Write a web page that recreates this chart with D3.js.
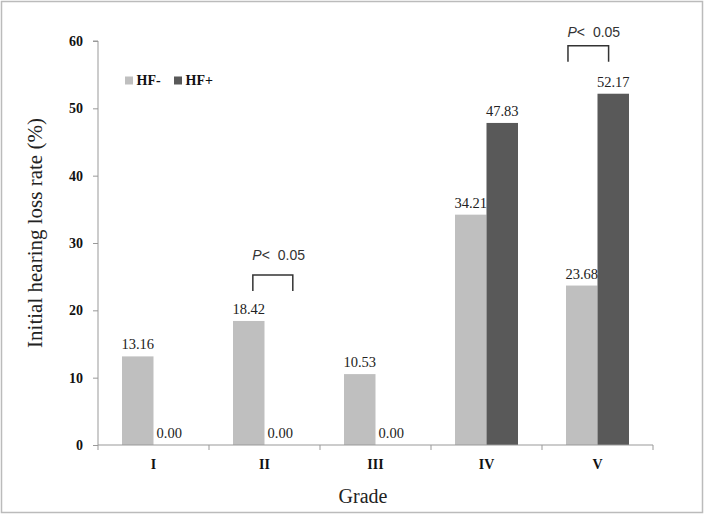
<!DOCTYPE html>
<html><head><meta charset="utf-8">
<script src="https://cdn.jsdelivr.net/npm/d3@7"></script>
<style>body{margin:0;background:#fff}</style>
</head><body>
<svg id="c" width="705" height="515"></svg>
<script>
const categories = ["I","II","III","IV","V"];
const seriesNames = ["HF-","HF+"];
const hfMinus = [13.16, 18.42, 10.53, 34.21, 23.68];
const hfPlus = [0.00, 0.00, 0.00, 47.83, 52.17];
const yTicks = [0,10,20,30,40,50,60];
const colors = ["#bfbfbf","#595959"];
// significance annotations: category, bracket span as fraction of band, bracket level (data units), text gap (px)
const annotations = [
  {cat:"II", from:0.395, to:0.755, level:25.25, gap:15},
  {cat:"V", from:0.234, to:0.60, level:59.3, gap:9}
];

const svg = d3.select("#c");
svg.append("rect").attr("x",1.5).attr("y",1.5).attr("width",701).attr("height",511)
  .attr("fill","#fff").attr("stroke","#bbb").attr("stroke-width",1.5);

const L=98, R=653, T=41, B=445;
const x0 = d3.scaleBand().domain(categories).range([L,R]).padding(0);
const x1 = d3.scaleBand().domain(seriesNames).range([24, x0.bandwidth()-24]).padding(0);
const y = d3.scaleLinear().domain([0,60]).range([B,T]);

const data = categories.map((c,i)=>({cat:c, vals:[{s:"HF-",v:hfMinus[i]},{s:"HF+",v:hfPlus[i]}]}));

// bars
const g = svg.append("g");
const groups = g.selectAll("g.grp").data(data).join("g").attr("transform",d=>`translate(${x0(d.cat)},0)`);
groups.selectAll("rect").data(d=>d.vals).join("rect")
  .attr("x",d=>x1(d.s)).attr("width",x1.bandwidth())
  .attr("y",d=>y(d.v)).attr("height",d=>B-y(d.v))
  .attr("fill",(d,i)=>colors[i]);
groups.selectAll("text").data(d=>d.vals).join("text")
  .attr("x",d=>x1(d.s)+x1.bandwidth()/2).attr("y",d=>y(d.v)-7)
  .attr("text-anchor","middle").attr("font-family","Liberation Serif, Times New Roman, serif")
  .attr("font-size",14.5).attr("fill","#222").text(d=>d.v.toFixed(2));

// y axis
const ya = svg.append("g").attr("transform",`translate(${L},0)`)
  .call(d3.axisLeft(y).tickValues(yTicks).tickSize(5).tickPadding(10));
ya.select(".domain").attr("stroke","#999").attr("d",`M-5,${T}H0V${B}`);
ya.selectAll(".tick line").attr("stroke","#999");
ya.selectAll(".tick text").attr("font-family","Liberation Serif, Times New Roman, serif")
  .attr("font-size",14).attr("font-weight","bold").attr("fill","#111");

// x axis
const xa = svg.append("g").attr("transform",`translate(0,${B})`);
xa.append("line").attr("x1",L).attr("x2",R).attr("y1",0).attr("y2",0).attr("stroke","#999");
const bounds = categories.map(c=>x0(c)).concat([R]);
xa.selectAll("line.tk").data(bounds).join("line").attr("class","tk")
  .attr("x1",d=>d).attr("x2",d=>d).attr("y1",0).attr("y2",5).attr("stroke","#999");
xa.selectAll("text").data(categories).join("text")
  .attr("x",d=>x0(d)+x0.bandwidth()/2).attr("y",23.5)
  .attr("text-anchor","middle").attr("font-family","Liberation Serif, Times New Roman, serif")
  .attr("font-size",14).attr("font-weight","bold").attr("fill","#111").text(d=>d);

// axis titles
svg.append("text").attr("transform",`translate(42,233) rotate(-90)`)
  .attr("text-anchor","middle").attr("font-family","Liberation Serif, Times New Roman, serif")
  .attr("font-size",21).attr("fill","#222").text("Initial hearing loss rate (%)");
svg.append("text").attr("x",363).attr("y",503).attr("text-anchor","middle")
  .attr("font-family","Liberation Serif, Times New Roman, serif")
  .attr("font-size",20).attr("fill","#222").text("Grade");

// legend
const leg = svg.append("g").attr("transform","translate(125,76.5)");
const legX = [0, 49];
seriesNames.forEach((s,i)=>{
  leg.append("rect").attr("x",legX[i]).attr("y",0).attr("width",8).attr("height",8).attr("fill",colors[i]);
  leg.append("text").attr("x",legX[i]+11.5).attr("y",8).attr("font-family","Liberation Serif, Times New Roman, serif")
    .attr("font-size",14).attr("font-weight","bold").attr("fill","#111").text(s);
});

// annotations
annotations.forEach(a=>{
  const xa0 = x0(a.cat)+a.from*x0.bandwidth();
  const xa1 = x0(a.cat)+a.to*x0.bandwidth();
  const yt = y(a.level);
  svg.append("path").attr("d",`M${xa0},${yt+16}V${yt}H${xa1}V${yt+16}`)
    .attr("fill","none").attr("stroke","#333").attr("stroke-width",1.5);
  const t = svg.append("text").attr("x",xa0-0.5).attr("y",yt-a.gap)
    .attr("font-family","Liberation Sans, Arial, sans-serif").attr("font-size",14).attr("fill","#333");
  t.append("tspan").attr("font-style","italic").text("P");
  t.append("tspan").text("<");
  t.append("tspan").attr("dx",4).text("\u00a00.05");
});
</script>
</body></html>
